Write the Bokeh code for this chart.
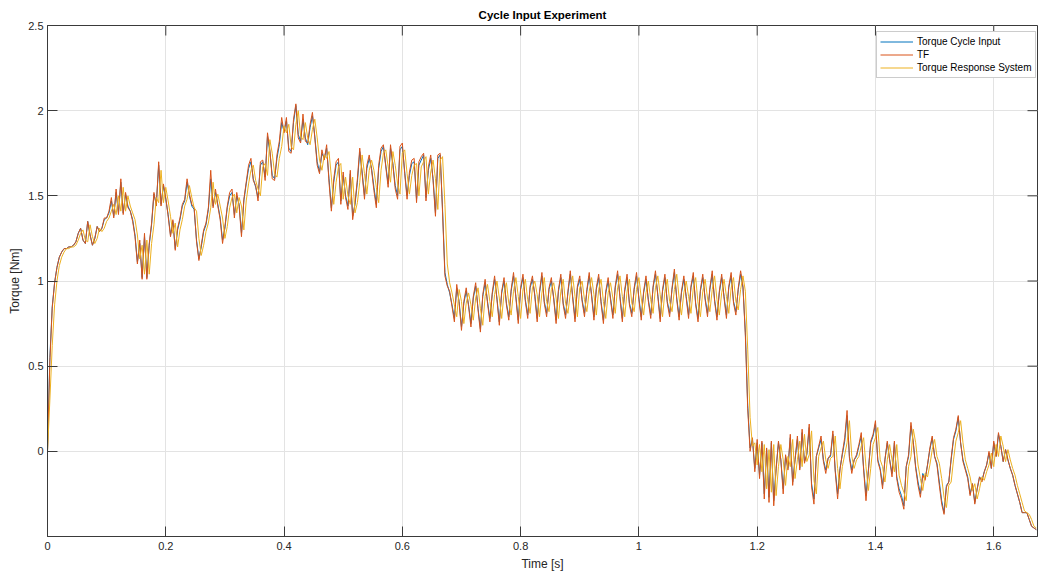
from bokeh.plotting import figure
from bokeh.models import (Range1d, FixedTicker, Legend, LegendItem,
                          CustomJSTickFormatter)
from bokeh.embed import file_html
from bokeh.resources import INLINE

# ---------------- data ----------------
TIME_STEP = 0.004  # sampling interval [s]

torque_input = [
    0.00, 0.55, 0.85, 0.99, 1.08, 1.14, 1.17, 1.19, 1.19, 1.20,
    1.20, 1.21, 1.23, 1.28, 1.31, 1.24, 1.22, 1.35, 1.27, 1.21,
    1.25, 1.32, 1.29, 1.31, 1.36, 1.37, 1.40, 1.47, 1.38, 1.52,
    1.40, 1.58, 1.40, 1.51, 1.44, 1.41, 1.36, 1.27, 1.11, 1.22,
    1.02, 1.26, 1.02, 1.21, 1.33, 1.51, 1.45, 1.68, 1.45, 1.56,
    1.48, 1.39, 1.27, 1.35, 1.19, 1.30, 1.36, 1.44, 1.47, 1.58,
    1.50, 1.44, 1.42, 1.24, 1.13, 1.20, 1.29, 1.33, 1.42, 1.60,
    1.44, 1.52, 1.45, 1.37, 1.24, 1.31, 1.43, 1.50, 1.52, 1.39,
    1.50, 1.45, 1.28, 1.47, 1.57, 1.66, 1.70, 1.60, 1.55, 1.49,
    1.68, 1.70, 1.61, 1.85, 1.76, 1.62, 1.60, 1.72, 1.80, 1.93,
    1.88, 1.94, 1.78, 1.76, 1.93, 2.03, 1.86, 1.82, 1.95, 1.84,
    1.80, 1.90, 1.97, 1.85, 1.70, 1.64, 1.75, 1.72, 1.78, 1.60,
    1.43, 1.58, 1.68, 1.70, 1.47, 1.62, 1.50, 1.44, 1.63, 1.38,
    1.45, 1.58, 1.76, 1.64, 1.50, 1.66, 1.72, 1.66, 1.55, 1.45,
    1.66, 1.76, 1.79, 1.68, 1.57, 1.78, 1.69, 1.56, 1.50, 1.77,
    1.79, 1.64, 1.50, 1.62, 1.69, 1.70, 1.48, 1.68, 1.71, 1.74,
    1.49, 1.65, 1.72, 1.60, 1.40, 1.72, 1.74, 1.42, 1.05, 0.98,
    0.93, 0.86, 0.78, 0.96, 0.88, 0.73, 0.87, 0.94, 0.86, 0.75,
    0.90, 0.97, 0.84, 0.72, 0.91, 0.99, 0.88, 0.78, 0.92, 1.01,
    0.90, 0.76, 0.93, 1.00, 0.87, 0.79, 0.94, 1.03, 0.91, 0.77,
    0.95, 1.02, 0.89, 0.80, 0.96, 1.01, 0.92, 0.78, 0.93, 1.03,
    0.88, 0.81, 0.95, 1.00, 0.90, 0.77, 0.94, 1.02, 0.87, 0.80,
    0.93, 1.04, 0.91, 0.78, 0.96, 1.01, 0.89, 0.81, 0.94, 1.03,
    0.92, 0.79, 0.95, 1.02, 0.88, 0.77, 0.93, 1.00, 0.90, 0.80,
    0.96, 1.04, 0.91, 0.78, 0.94, 1.02, 0.87, 0.81, 0.95, 1.03,
    0.90, 0.79, 0.93, 1.01, 0.89, 0.80, 0.96, 1.04, 0.92, 0.78,
    0.94, 1.02, 0.88, 0.81, 0.95, 1.05, 0.90, 0.79, 0.93, 1.01,
    0.91, 0.80, 0.96, 1.03, 0.87, 0.78, 0.94, 1.02, 0.90, 0.81,
    0.95, 1.04, 0.89, 0.79, 0.93, 1.02, 0.91, 0.80, 0.96, 1.03,
    0.88, 0.82, 0.95, 1.04, 0.96, 0.70, 0.27, 0.02, 0.07, -0.10,
    0.05, -0.14, 0.05, -0.25, 0.01, -0.27, 0.05, -0.29, -0.10, 0.05,
    -0.05, -0.22, -0.03, -0.10, 0.08, -0.18, -0.05, 0.07, -0.10, 0.11,
    -0.06, -0.02, 0.14, -0.19, -0.28, -0.03, 0.02, 0.07, -0.05, -0.11,
    -0.04, -0.03, 0.10, -0.11, -0.25, -0.10, -0.02, 0.06, 0.21, -0.03,
    -0.11, -0.05, -0.03, 0.03, 0.09, -0.10, -0.26, -0.11, 0.05, 0.09,
    0.16, -0.05, -0.10, -0.20, -0.05, 0.05, -0.05, -0.13, 0.05, -0.15,
    -0.22, -0.26, -0.32, -0.09, -0.03, 0.15, 0.05, -0.09, -0.18, -0.25,
    -0.13, -0.16, -0.08, 0.01, 0.08, -0.03, -0.07, -0.18, -0.29, -0.36,
    -0.20, -0.18, -0.05, 0.07, 0.12, 0.20, 0.05, -0.05, -0.10, -0.15,
    -0.25, -0.19, -0.30, -0.22, -0.15, -0.17, -0.12, -0.08, -0.01, -0.10,
    0.05, -0.03, 0.10, 0.03, -0.06, 0.01, -0.05, -0.10, -0.14, -0.20,
    -0.25, -0.30, -0.36, -0.36, -0.36, -0.40, -0.44, -0.45, -0.46,
]

torque_tf = [
    0.00, 0.53, 0.84, 0.99, 1.08, 1.14, 1.17, 1.19, 1.19, 1.20,
    1.20, 1.21, 1.23, 1.28, 1.31, 1.24, 1.22, 1.35, 1.27, 1.21,
    1.25, 1.32, 1.29, 1.31, 1.37, 1.37, 1.41, 1.49, 1.37, 1.54,
    1.39, 1.60, 1.39, 1.52, 1.43, 1.41, 1.35, 1.26, 1.10, 1.24,
    1.01, 1.28, 1.01, 1.22, 1.34, 1.52, 1.44, 1.70, 1.44, 1.57,
    1.49, 1.38, 1.26, 1.36, 1.18, 1.31, 1.37, 1.45, 1.48, 1.60,
    1.51, 1.45, 1.43, 1.23, 1.12, 1.21, 1.30, 1.34, 1.43, 1.65,
    1.43, 1.54, 1.44, 1.36, 1.22, 1.32, 1.44, 1.52, 1.54, 1.37,
    1.52, 1.44, 1.26, 1.48, 1.58, 1.68, 1.72, 1.59, 1.56, 1.47,
    1.70, 1.71, 1.59, 1.87, 1.77, 1.60, 1.59, 1.74, 1.82, 1.96,
    1.87, 1.96, 1.76, 1.75, 1.95, 2.04, 1.84, 1.81, 1.98, 1.82,
    1.81, 1.92, 1.99, 1.84, 1.68, 1.63, 1.77, 1.71, 1.80, 1.58,
    1.41, 1.60, 1.70, 1.72, 1.45, 1.64, 1.49, 1.42, 1.65, 1.36,
    1.46, 1.60, 1.78, 1.63, 1.48, 1.68, 1.74, 1.65, 1.53, 1.43,
    1.68, 1.78, 1.80, 1.67, 1.55, 1.80, 1.68, 1.54, 1.48, 1.79,
    1.81, 1.63, 1.48, 1.64, 1.71, 1.72, 1.46, 1.70, 1.73, 1.75,
    1.47, 1.67, 1.74, 1.59, 1.38, 1.74, 1.75, 1.40, 1.03, 0.97,
    0.94, 0.85, 0.76, 0.98, 0.87, 0.71, 0.88, 0.96, 0.85, 0.73,
    0.91, 0.99, 0.83, 0.70, 0.92, 1.01, 0.87, 0.76, 0.93, 1.03,
    0.89, 0.74, 0.94, 1.02, 0.86, 0.77, 0.95, 1.05, 0.90, 0.75,
    0.96, 1.04, 0.88, 0.78, 0.97, 1.03, 0.91, 0.76, 0.94, 1.05,
    0.87, 0.79, 0.96, 1.02, 0.89, 0.75, 0.95, 1.04, 0.86, 0.78,
    0.94, 1.06, 0.90, 0.76, 0.97, 1.03, 0.88, 0.79, 0.95, 1.05,
    0.91, 0.77, 0.96, 1.04, 0.87, 0.75, 0.94, 1.02, 0.89, 0.78,
    0.97, 1.06, 0.90, 0.76, 0.95, 1.04, 0.86, 0.79, 0.96, 1.05,
    0.89, 0.77, 0.94, 1.03, 0.88, 0.78, 0.97, 1.06, 0.91, 0.76,
    0.95, 1.04, 0.87, 0.79, 0.96, 1.07, 0.89, 0.77, 0.94, 1.03,
    0.90, 0.78, 0.97, 1.05, 0.86, 0.76, 0.95, 1.04, 0.89, 0.79,
    0.96, 1.06, 0.88, 0.77, 0.94, 1.04, 0.90, 0.78, 0.97, 1.05,
    0.87, 0.80, 0.96, 1.06, 0.97, 0.68, 0.25, 0.00, 0.08, -0.12,
    0.07, -0.16, 0.06, -0.28, 0.02, -0.30, 0.06, -0.32, -0.11, 0.06,
    -0.05, -0.25, -0.02, -0.11, 0.10, -0.20, -0.05, 0.09, -0.11, 0.13,
    -0.07, -0.01, 0.16, -0.21, -0.31, -0.03, 0.03, 0.09, -0.06, -0.13,
    -0.04, -0.02, 0.12, -0.12, -0.28, -0.11, -0.01, 0.08, 0.24, -0.04,
    -0.13, -0.05, -0.02, 0.04, 0.11, -0.11, -0.29, -0.12, 0.06, 0.10,
    0.18, -0.06, -0.11, -0.22, -0.05, 0.06, -0.05, -0.15, 0.06, -0.16,
    -0.24, -0.28, -0.34, -0.09, -0.02, 0.17, 0.05, -0.10, -0.20, -0.27,
    -0.14, -0.17, -0.08, 0.02, 0.09, -0.03, -0.08, -0.20, -0.31, -0.37,
    -0.21, -0.18, -0.04, 0.08, 0.13, 0.21, 0.05, -0.06, -0.11, -0.16,
    -0.26, -0.19, -0.31, -0.22, -0.15, -0.18, -0.12, -0.08, 0.00, -0.10,
    0.06, -0.03, 0.11, 0.03, -0.06, 0.01, -0.05, -0.10, -0.14, -0.20,
    -0.25, -0.30, -0.36, -0.36, -0.36, -0.40, -0.44, -0.45, -0.46,
]

torque_response = [
    0.00, 0.30, 0.62, 0.86, 1.00, 1.09, 1.14, 1.17, 1.19, 1.19,
    1.20, 1.20, 1.21, 1.24, 1.28, 1.30, 1.24, 1.23, 1.33, 1.26,
    1.22, 1.25, 1.31, 1.29, 1.31, 1.35, 1.37, 1.41, 1.45, 1.39,
    1.50, 1.41, 1.55, 1.41, 1.50, 1.44, 1.40, 1.36, 1.27, 1.13,
    1.21, 1.04, 1.24, 1.04, 1.22, 1.33, 1.49, 1.46, 1.65, 1.46,
    1.55, 1.47, 1.38, 1.28, 1.34, 1.20, 1.30, 1.36, 1.44, 1.48,
    1.56, 1.49, 1.43, 1.41, 1.25, 1.15, 1.21, 1.29, 1.34, 1.43,
    1.58, 1.45, 1.51, 1.44, 1.37, 1.25, 1.32, 1.43, 1.49, 1.51,
    1.40, 1.49, 1.44, 1.30, 1.47, 1.57, 1.65, 1.68, 1.59, 1.54,
    1.50, 1.67, 1.69, 1.62, 1.83, 1.75, 1.63, 1.61, 1.72, 1.79,
    1.91, 1.87, 1.92, 1.79, 1.77, 1.92, 2.00, 1.85, 1.83, 1.93,
    1.84, 1.80, 1.89, 1.95, 1.84, 1.71, 1.65, 1.74, 1.72, 1.76,
    1.61, 1.45, 1.58, 1.67, 1.69, 1.48, 1.61, 1.50, 1.45, 1.61,
    1.40, 1.46, 1.58, 1.74, 1.63, 1.51, 1.65, 1.71, 1.65, 1.55,
    1.46, 1.65, 1.75, 1.77, 1.67, 1.58, 1.76, 1.68, 1.57, 1.51,
    1.75, 1.77, 1.63, 1.51, 1.62, 1.68, 1.69, 1.50, 1.67, 1.70,
    1.73, 1.51, 1.64, 1.71, 1.60, 1.42, 1.71, 1.73, 1.45, 1.10,
    0.99, 0.93, 0.86, 0.79, 0.95, 0.88, 0.75, 0.87, 0.93, 0.86,
    0.77, 0.90, 0.96, 0.84, 0.74, 0.91, 0.98, 0.88, 0.79, 0.92,
    1.00, 0.90, 0.78, 0.93, 0.99, 0.87, 0.80, 0.94, 1.02, 0.91,
    0.78, 0.95, 1.01, 0.89, 0.81, 0.96, 1.00, 0.92, 0.79, 0.93,
    1.02, 0.88, 0.82, 0.95, 0.99, 0.90, 0.78, 0.94, 1.01, 0.87,
    0.81, 0.93, 1.03, 0.91, 0.79, 0.96, 1.00, 0.89, 0.82, 0.94,
    1.02, 0.92, 0.80, 0.95, 1.01, 0.88, 0.78, 0.93, 0.99, 0.90,
    0.81, 0.96, 1.03, 0.91, 0.79, 0.94, 1.01, 0.87, 0.82, 0.95,
    1.02, 0.90, 0.80, 0.93, 1.00, 0.89, 0.81, 0.96, 1.03, 0.92,
    0.79, 0.94, 1.01, 0.88, 0.82, 0.95, 1.04, 0.90, 0.80, 0.93,
    1.00, 0.91, 0.81, 0.96, 1.02, 0.87, 0.79, 0.94, 1.01, 0.90,
    0.82, 0.95, 1.03, 0.89, 0.80, 0.93, 1.01, 0.91, 0.81, 0.96,
    1.02, 0.88, 0.83, 0.95, 1.03, 0.94, 0.60, 0.20, 0.03, 0.05,
    -0.08, 0.04, -0.12, 0.04, -0.22, 0.01, -0.24, 0.04, -0.26, -0.09,
    0.04, -0.05, -0.20, -0.03, -0.09, 0.07, -0.16, -0.05, 0.06, -0.09,
    0.10, -0.06, -0.02, 0.12, -0.17, -0.25, -0.03, 0.02, 0.06, -0.05,
    -0.10, -0.04, -0.03, 0.09, -0.10, -0.22, -0.09, -0.02, 0.05, 0.18,
    -0.03, -0.10, -0.05, -0.03, 0.03, 0.08, -0.09, -0.23, -0.10, 0.04,
    0.08, 0.14, -0.05, -0.09, -0.18, -0.05, 0.04, -0.05, -0.12, 0.04,
    -0.14, -0.20, -0.24, -0.29, -0.09, -0.03, 0.13, 0.05, -0.08, -0.16,
    -0.23, -0.13, -0.15, -0.08, 0.01, 0.07, -0.03, -0.07, -0.16, -0.27,
    -0.33, -0.20, -0.18, -0.05, 0.06, 0.11, 0.18, 0.05, -0.05, -0.10,
    -0.15, -0.23, -0.19, -0.28, -0.22, -0.15, -0.17, -0.12, -0.08, -0.01,
    -0.09, 0.04, -0.03, 0.09, 0.03, -0.06, 0.01, -0.05, -0.10, -0.14,
    -0.20, -0.25, -0.30, -0.35, -0.36, -0.37, -0.40, -0.44, -0.45,
]

x_ticks = [0, 0.2, 0.4, 0.6, 0.8, 1.0, 1.2, 1.4, 1.6]
y_ticks = [0, 0.5, 1.0, 1.5, 2.0, 2.5]
series_labels = ["Torque Cycle Input", "TF", "Torque Response System"]

X_MIN, X_MAX = 0.0, 1.674
Y_MIN, Y_MAX = -0.5, 2.5

n = min(len(torque_input), len(torque_tf), len(torque_response))
time = [round(i * TIME_STEP, 4) for i in range(n)]

# ---------------- figure ----------------
FONT = "Liberation Sans"
AXIS_COLOR = "#3a3a3a"
GRID_COLOR = "#e3e3e3"
W, H = 1039, 574
BL, BR, BT, BB = 47, 2, 25, 38

p = figure(width=W, height=H, output_backend="svg", toolbar_location=None,
           x_range=Range1d(X_MIN, X_MAX), y_range=Range1d(Y_MIN, Y_MAX),
           min_border_left=BL, min_border_right=BR, min_border_top=BT,
           min_border_bottom=BB)
p.background_fill_color = "white"
p.border_fill_color = "white"
p.outline_line_color = AXIS_COLOR

p.title.text = "Cycle Input Experiment"
p.title.align = "center"
p.title.text_font = FONT
p.title.text_font_size = "11.5px"
p.title.text_font_style = "bold"
p.title.text_color = "#000000"

fmt = CustomJSTickFormatter(code="return Number(tick.toFixed(2)).toString();")
xt = FixedTicker(ticks=x_ticks)
yt = FixedTicker(ticks=y_ticks)

for ax, tk in ((p.xaxis[0], xt), (p.yaxis[0], yt)):
    ax.ticker = tk
    ax.formatter = fmt
    ax.major_tick_in = 10
    ax.major_tick_out = 0
    ax.minor_tick_line_color = None
    ax.axis_line_color = AXIS_COLOR
    ax.major_tick_line_color = AXIS_COLOR
    ax.major_label_text_font = FONT
    ax.major_label_text_font_size = "11px"
    ax.major_label_text_color = "#262626"
    ax.axis_label_text_font = FONT
    ax.axis_label_text_font_size = "12px"
    ax.axis_label_text_font_style = "normal"
    ax.axis_label_text_color = "#262626"

p.xaxis.axis_label = "Time [s]"
p.yaxis.axis_label = "Torque [Nm]"
p.xaxis.major_label_standoff = 5
p.yaxis.major_label_standoff = 4
p.xaxis.axis_label_standoff = 4
p.yaxis.axis_label_standoff = 3

p.xgrid.ticker = xt
p.ygrid.ticker = yt
p.xgrid.grid_line_color = GRID_COLOR
p.ygrid.grid_line_color = GRID_COLOR

# mirrored inward tick marks on the top and right edges (box on), 10 px long
frame_w = W - BL - BR
frame_h = H - BT - BB
tick_dy = 10 * (Y_MAX - Y_MIN) / frame_h
tick_dx = 10 * (X_MAX - X_MIN) / frame_w
p.segment(x0=x_ticks, y0=[Y_MAX] * len(x_ticks), x1=x_ticks,
          y1=[Y_MAX - tick_dy] * len(x_ticks), line_color=AXIS_COLOR, line_width=1)
p.segment(x0=[X_MAX] * len(y_ticks), y0=y_ticks, x1=[X_MAX - tick_dx] * len(y_ticks),
          y1=y_ticks, line_color=AXIS_COLOR, line_width=1)

colors = ["#0072BD", "#D95319", "#EDB120"]
renderers = []
for vals, c in zip((torque_input, torque_tf, torque_response), colors):
    r = p.line(time, vals[:n], line_color=c, line_width=1)
    renderers.append(r)

legend = Legend(items=[LegendItem(label=lab, renderers=[r])
                       for lab, r in zip(series_labels, renderers)],
                location=(829, 458))
legend.label_text_font = FONT
legend.label_text_font_size = "10px"
legend.label_text_color = "#000000"
legend.glyph_width = 33
legend.glyph_height = 13
legend.label_height = 13
legend.label_standoff = 4
legend.padding = 3
legend.spacing = 0
legend.margin = 0
legend.border_line_color = "#9a9a9a"
legend.border_line_width = 1
legend.background_fill_color = "white"
legend.background_fill_alpha = 1.0
p.add_layout(legend)

open("out.html", "w").write(file_html(p, INLINE))
